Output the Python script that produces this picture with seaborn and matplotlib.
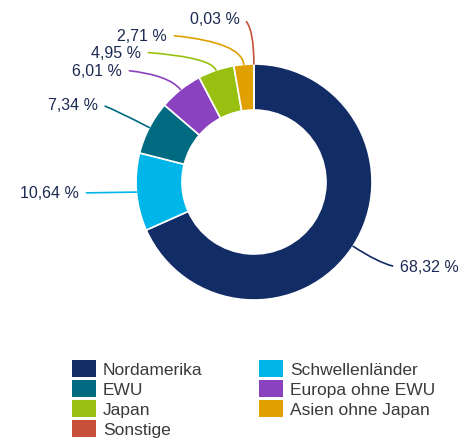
import numpy as np
import matplotlib
matplotlib.use("Agg")
import matplotlib.pyplot as plt
import seaborn as sns
from matplotlib.patches import Patch
from matplotlib.legend import Legend

regions = ["Nordamerika", "Schwellenländer", "EWU", "Europa ohne EWU",
           "Japan", "Asien ohne Japan", "Sonstige"]
shares = [68.32, 10.64, 7.34, 6.01, 4.95, 2.71, 0.03]
labels = ["68,32 %", "10,64 %", "7,34 %", "6,01 %", "4,95 %", "2,71 %", "0,03 %"]
colors = ["#122c66", "#00b5e8", "#006a80", "#8a42c0", "#98c010", "#e0a000", "#c8503a"]

W, H = 477, 439

sns.set_theme(style="white")
plt.rcParams['font.family'] = ['Liberation Sans', 'DejaVu Sans']


def px(x, y):
    # pixel coords (origin top-left) -> data coords
    return x, H - y


fig = plt.figure(figsize=(W / 100, H / 100), dpi=100)
ax = fig.add_axes([0, 0, 1, 1])
ax.set_axis_off()

cx, cy = px(254, 183)
r_out = 118
wedges, _ = ax.pie(shares, colors=colors, startangle=90, counterclock=False,
                   center=(cx, cy), radius=r_out,
                   wedgeprops=dict(width=46, edgecolor='white', linewidth=1.2))
ax.set_xlim(0, W)
ax.set_ylim(0, H)
ax.set_aspect('equal')

# where each label sits (left edge for the first one, right edge for the rest)
text_pos = [(400, 268), (79, 194), (98, 105), (122, 71), (141, 53), (167, 36), (240, 19)]
tilt = [0, 0, -6, -5, -4, -5, -4]
label_color = "#1b2a52"

for i, w in enumerate(wedges):
    mid = (w.theta1 + w.theta2) / 2
    ang = np.deg2rad(mid)
    ax_x = cx + r_out * np.cos(ang)
    ax_y = cy + r_out * np.sin(ang)
    tx, ty = px(*text_pos[i])
    ha = 'left' if i == 0 else 'right'
    relx = 0 if i == 0 else 1
    if i == 1:
        conn = "arc3,rad=0"
    else:
        conn = f"angle3,angleA={tilt[i]},angleB={mid:.1f}"
    ax.annotate(labels[i], xy=(ax_x, ax_y), xytext=(tx, ty), ha=ha, va='center',
                fontsize=11.5, color=label_color,
                arrowprops=dict(arrowstyle='-', color=colors[i], lw=1.2,
                                shrinkA=3, shrinkB=0, relpos=(relx, 0.5),
                                connectionstyle=conn))

col1 = [0, 2, 4, 6]
col2 = [1, 3, 5]
fs = 12.5
for col, (lx, ly) in [(col1, (72, 361)), (col2, (259, 361))]:
    handles = [Patch(facecolor=colors[k], edgecolor='none', label=regions[k]) for k in col]
    leg = Legend(ax, handles, [regions[k] for k in col], loc='upper left',
                 bbox_to_anchor=px(lx, ly), bbox_transform=ax.transData,
                 frameon=False, fontsize=fs, borderpad=0, borderaxespad=0,
                 handlelength=1.38, handleheight=1.13, handletextpad=0.4,
                 labelspacing=0.15, labelcolor="#3a3a3a")
    ax.add_artist(leg)

fig.savefig("out.png", dpi=100, facecolor='white')
